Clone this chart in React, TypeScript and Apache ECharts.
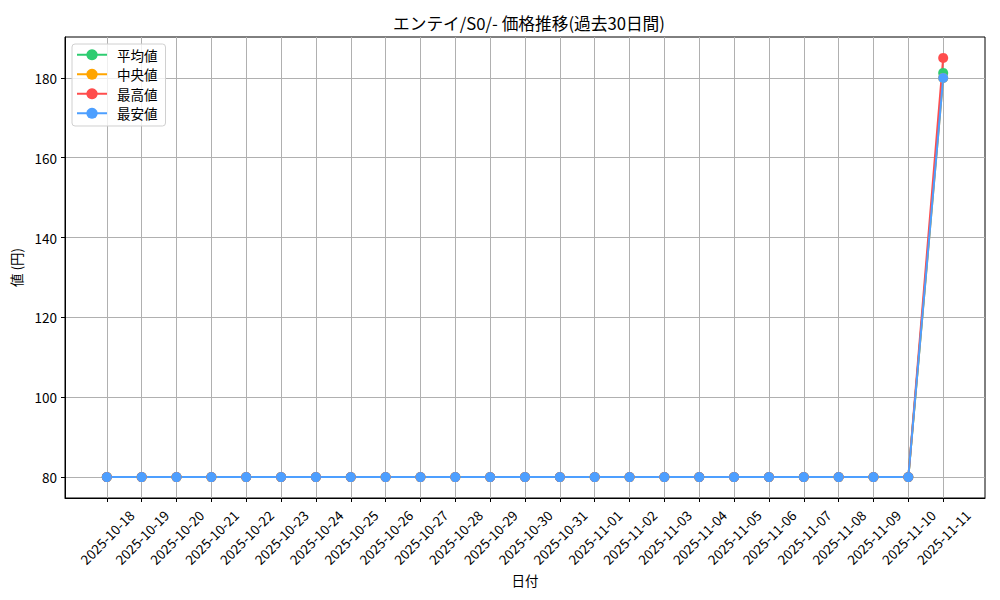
// エンテイ/S0/- の価格推移（過去30日間）— 平均・中央・最高・最安の4系列を折れ線で。
import * as React from "react";
import * as echarts from "echarts";

const dates = [
  "2025-10-18", "2025-10-19", "2025-10-20", "2025-10-21", "2025-10-22",
  "2025-10-23", "2025-10-24", "2025-10-25", "2025-10-26", "2025-10-27",
  "2025-10-28", "2025-10-29", "2025-10-30", "2025-10-31", "2025-11-01",
  "2025-11-02", "2025-11-03", "2025-11-04", "2025-11-05", "2025-11-06",
  "2025-11-07", "2025-11-08", "2025-11-09", "2025-11-10", "2025-11-11",
];

const avgPrices = [
  80, 80, 80, 80, 80, 80, 80, 80, 80, 80, 80, 80, 80, 80, 80, 80, 80, 80, 80, 80, 80, 80, 80, 80, 181.25,
];
const medianPrices = [
  80, 80, 80, 80, 80, 80, 80, 80, 80, 80, 80, 80, 80, 80, 80, 80, 80, 80, 80, 80, 80, 80, 80, 80, 180,
];
const maxPrices = [
  80, 80, 80, 80, 80, 80, 80, 80, 80, 80, 80, 80, 80, 80, 80, 80, 80, 80, 80, 80, 80, 80, 80, 80, 185,
];
const minPrices = [
  80, 80, 80, 80, 80, 80, 80, 80, 80, 80, 80, 80, 80, 80, 80, 80, 80, 80, 80, 80, 80, 80, 80, 80, 180,
];

const yTicks = [80, 100, 120, 140, 160, 180];

const FONT = "'Noto Sans CJK JP', sans-serif";

const seriesDefs = [
  { name: "平均値", color: "#2ecc71", values: avgPrices },
  { name: "中央値", color: "#ffa500", values: medianPrices },
  { name: "最高値", color: "#ff4d4d", values: maxPrices },
  { name: "最安値", color: "#4d9fff", values: minPrices },
];

export default function App() {
  const ref = React.useRef<HTMLDivElement | null>(null);

  React.useEffect(() => {
    if (!ref.current) return;
    const chart = echarts.init(ref.current, undefined, { renderer: "svg" });
    const idx = dates.map((_, i) => i);
    chart.setOption({
      animation: false,
      backgroundColor: "#ffffff",
      textStyle: { fontFamily: FONT },
      title: {
        text: "エンテイ/S0/- 価格推移(過去30日間)",
        left: 524,
        top: 10,
        textAlign: "center",
        textStyle: { fontFamily: FONT, fontSize: 16.7, fontWeight: "normal", color: "#000" },
      },
      legend: {
        orient: "vertical",
        left: 72,
        top: 44,
        itemWidth: 30,
        itemHeight: 14,
        itemGap: 6,
        padding: [4, 8, 6, 4],
        borderColor: "#d0d0d0",
        borderWidth: 1,
        borderRadius: 3,
        backgroundColor: "rgba(255,255,255,0.8)",
        textStyle: { fontFamily: FONT, fontSize: 13.5, color: "#000", padding: [0, 0, 0, 5] },
        data: seriesDefs.map((s) => s.name),
      },
      grid: {
        left: 65,
        right: 15,
        top: 37,
        bottom: 102,
        show: true,
        borderColor: "#000",
        borderWidth: 1,
      },
      xAxis: {
        type: "value",
        min: -1.2,
        max: dates.length - 1 + 1.2,
        name: "日付",
        nameLocation: "middle",
        nameGap: 73,
        nameTextStyle: { fontFamily: FONT, fontSize: 13.5, color: "#000" },
        axisLine: { show: true, onZero: false, lineStyle: { color: "#000" } },
        axisTick: { show: true, length: 4, lineStyle: { color: "#000" }, customValues: idx },
        axisLabel: {
          rotate: 45,
          align: "center",
          verticalAlign: "middle",
          fontFamily: FONT,
          fontSize: 13.5,
          color: "#000",
          margin: 39,
          customValues: idx,
          formatter: (v: number) => dates[Math.round(v)] ?? "",
        },
        splitLine: { show: true, lineStyle: { color: "#b0b0b0", width: 1 } },
      },
      yAxis: {
        type: "value",
        min: 74.75,
        max: 190.25,
        name: "値 (円)",
        nameLocation: "middle",
        nameGap: 42,
        nameTextStyle: { fontFamily: FONT, fontSize: 13.5, color: "#000" },
        axisLine: { show: true, onZero: false, lineStyle: { color: "#000" } },
        axisTick: { show: true, length: 4, lineStyle: { color: "#000" }, customValues: yTicks },
        axisLabel: { fontFamily: FONT, fontSize: 13.5, color: "#000", margin: 8, customValues: yTicks },
        splitLine: { show: true, lineStyle: { color: "#b0b0b0", width: 1 } },
      },
      series: seriesDefs.map((s) => ({
        name: s.name,
        type: "line",
        data: s.values.map((v, i) => [i, v]),
        symbol: "circle",
        symbolSize: 10,
        showSymbol: true,
        lineStyle: { color: s.color, width: 2 },
        itemStyle: { color: s.color },
      })),
    });
    return () => chart.dispose();
  }, []);

  return (
    <div
      ref={ref}
      style={{ position: "absolute", left: 0, top: 0, width: 1000, height: 600 }}
    />
  );
}
